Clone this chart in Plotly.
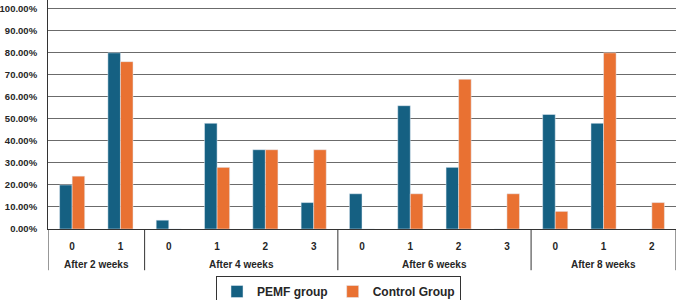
import plotly.graph_objects as go

groups = ["After 2 weeks"]*2 + ["After 4 weeks"]*4 + ["After 6 weeks"]*4 + ["After 8 weeks"]*3
scores = ["0", "1", "0", "1", "2", "3", "0", "1", "2", "3", "0", "1", "2"]
pemf = [0.20, 0.80, 0.04, 0.48, 0.36, 0.12, 0.16, 0.56, 0.28, 0.00, 0.52, 0.48, 0.00]
control = [0.24, 0.76, 0.00, 0.28, 0.36, 0.36, 0.00, 0.16, 0.68, 0.16, 0.08, 0.80, 0.12]
y_max = 1.0
y_step = 0.1

font_family = "Liberation Sans"
text_color = "#262626"
line_color = "#333333"

xpos = list(range(len(scores)))

fig = go.Figure()
fig.add_trace(go.Bar(x=xpos, y=pemf, name="PEMF group", marker_color="#156082"))
fig.add_trace(go.Bar(x=xpos, y=control, name="Control Group", marker_color="#E97132"))

unique_groups = []
for g in groups:
    if g not in unique_groups:
        unique_groups.append(g)
bounds = [-0.5]
for g in unique_groups:
    idx = [i for i, gg in enumerate(groups) if gg == g]
    center = (idx[0] + idx[-1]) / 2
    fig.add_annotation(x=center, xref="x", y=-0.155, yref="paper", text=g,
                       showarrow=False, yanchor="middle",
                       font=dict(size=10, weight="bold", color=text_color, family=font_family))
    bounds.append(idx[-1] + 0.5)
for b in bounds:
    fig.add_shape(type="line", xref="x", yref="paper", x0=b, x1=b, y0=0, y1=-0.18,
                  line=dict(color=line_color, width=1))

fig.update_layout(
    width=677, height=300,
    margin=dict(l=48, r=1, t=0, b=71, autoexpand=False),
    plot_bgcolor="white", paper_bgcolor="white",
    barmode="group", bargap=0.48, bargroupgap=0,
    font=dict(family=font_family, size=10, color=text_color, weight="bold"),
    legend=dict(orientation="h", x=0.5, xanchor="center", xref="container",
                y=0.08, yanchor="top", yref="container",
                bordercolor=line_color, borderwidth=1, itemwidth=30,
                font=dict(size=12, weight="bold", color=text_color)),
    xaxis=dict(range=[-0.5, len(scores) - 0.5], tickvals=xpos, ticktext=scores,
               showline=True, linecolor=line_color, linewidth=1,
               ticks="", ticklabelstandoff=8, showgrid=False, zeroline=False,
               tickfont=dict(size=10, weight="bold")),
    yaxis=dict(range=[0, y_max * 1.04], tickmode="linear", tick0=0, dtick=y_step,
               tickformat=".2%", ticklabeloverflow="allow",
               showgrid=True, gridcolor="#6b6b6b", gridwidth=1.2,
               showline=True, linecolor=line_color, linewidth=1, zeroline=False,
               ticks="", ticklabelstandoff=8, automargin=False,
               tickfont=dict(size=9.5, weight="bold")),
)

fig.write_html("out.html")
